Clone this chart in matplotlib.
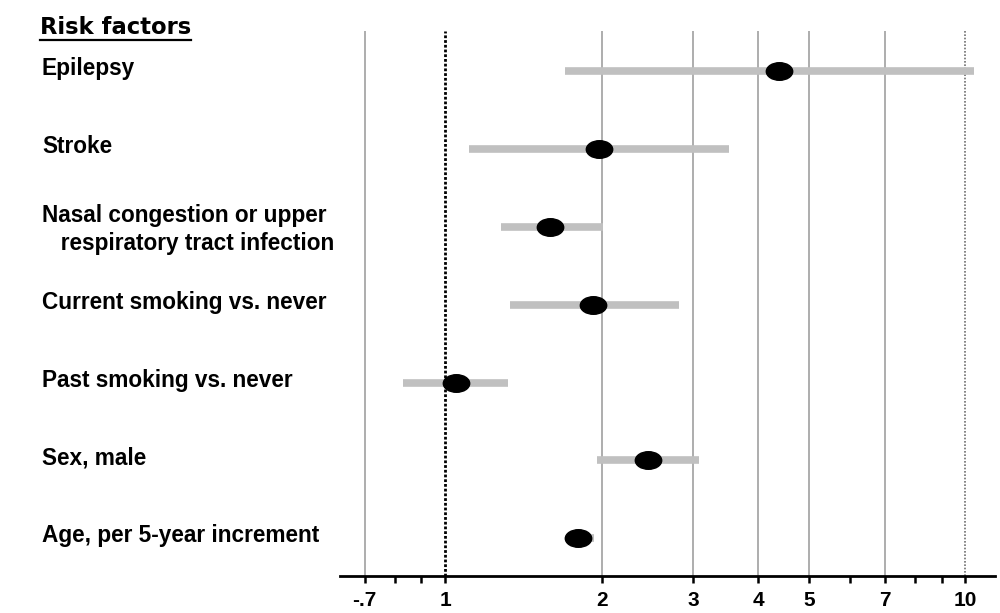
import numpy as np
import matplotlib
matplotlib.use("Agg")
import matplotlib.pyplot as plt
from matplotlib.path import Path
from matplotlib.transforms import Affine2D

# data (odds ratios, log scale)
labels = ["Epilepsy", "Stroke", "Nasal congestion or upper\n   respiratory tract infection",
          "Current smoking vs. never", "Past smoking vs. never", "Sex, male",
          "Age, per 5-year increment"]
point = [4.39, 1.98, 1.59, 1.92, 1.05, 2.45, 1.80]
lower = [1.70, 1.11, 1.28, 1.33, 0.83, 1.96, 1.72]
upper = [10.4, 3.52, 2.01, 2.81, 1.32, 3.07, 1.93]

tick_vals = [0.7, 0.8, 0.9, 1, 2, 3, 4, 5, 6, 7, 8, 9, 10]
tick_text = ["-.7", "", "", "1", "2", "3", "4", "5", "", "7", "", "", "10"]
grid_vals = [0.7, 2, 3, 4, 5, 7]

fig = plt.figure(figsize=(10, 6.13), dpi=100)
ax = fig.add_axes([0.34, 0.06, 0.655, 0.889])
ax.set_xscale("log")
ax.set_xlim(0.628, 11.4)
n = len(labels)
ax.set_ylim(n - 0.51, -0.515)

# grid
for g in grid_vals:
    ax.axvline(g, color="#a0a0a0", lw=1.2, zorder=1)
ax.axvline(1, color="black", lw=2, ls=(0, (1, 0.7)), zorder=1)
ax.axvline(10, color="#707070", lw=1.2, ls=(0, (1, 1)), zorder=1)

# ellipse marker
ell = Path.unit_circle().transformed(Affine2D().scale(1.5, 1.0))

y = np.arange(n)
ax.hlines(y, lower, upper, color="#c0c0c0", lw=5.5, capstyle="butt", zorder=2)
ax.plot(point, y, ls="none", marker=ell, ms=19, color="black", zorder=3)

for i, lab in enumerate(labels):
    yy = i + 0.03 if "\n" in lab else i - 0.03
    ax.text(-0.455, yy, lab, transform=ax.get_yaxis_transform(), ha="left", va="center",
            fontsize=16.3, fontweight="bold", family="Liberation Sans", linespacing=1.3,
            clip_on=False)

# title with underline
t = fig.text(0.04, 0.974, "Risk factors", fontsize=16.3, fontweight="bold",
             family="DejaVu Sans", ha="left", va="top")
fig.canvas.draw()
bb = t.get_window_extent().transformed(fig.transFigure.inverted())
fig.add_artist(plt.Line2D([bb.x0, bb.x1], [bb.y0 - 0.002, bb.y0 - 0.002],
                          color="black", lw=1.6, transform=fig.transFigure))

# axes styling
for s in ["top", "right", "left"]:
    ax.spines[s].set_visible(False)
ax.spines["bottom"].set_linewidth(2)
ax.set_yticks([])
ax.xaxis.set_minor_locator(matplotlib.ticker.NullLocator())
ax.set_xticks(tick_vals)
ax.set_xticklabels(tick_text, fontsize=15, fontweight="bold", family="Liberation Sans")
ax.tick_params(axis="x", length=5, width=1.8, pad=6)

fig.savefig("out.png", dpi=100)
